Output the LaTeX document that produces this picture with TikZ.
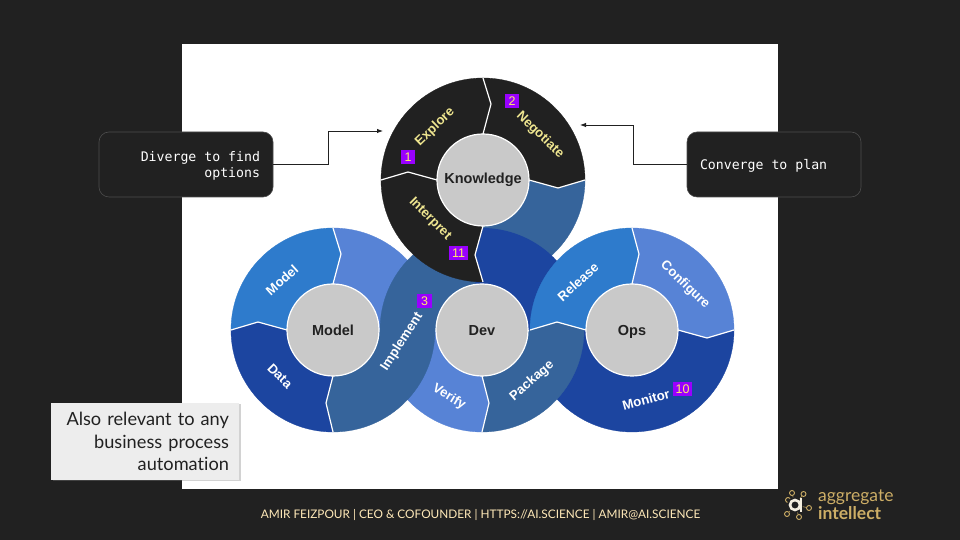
\documentclass[tikz,border=0pt]{standalone}
\usepackage{fontspec}
\setmainfont{Liberation Sans}
\newfontfamily\monofam{DejaVu Sans Mono}
\newfontfamily\latofam[Ligatures=NoCommon]{Lato}
\usetikzlibrary{arrows.meta,shadows}
\definecolor{pagebg}{HTML}{212121}
\definecolor{hubgrey}{HTML}{C9C9C9}
\definecolor{midblue}{HTML}{2E7BCC}
\definecolor{paleblue}{HTML}{5783D6}
\definecolor{deepblue}{HTML}{1C45A0}
\definecolor{slateblue}{HTML}{36649B}
\definecolor{tagpurple}{HTML}{9900FF}
\definecolor{tagyellow}{HTML}{FFEE66}
\definecolor{wordyellow}{HTML}{EFE690}
\definecolor{footcream}{HTML}{FFE9B8}
\definecolor{logogold}{HTML}{CDAE66}
\tikzset{
  hub/.style={circle, draw=white, line width=1.2pt, fill=hubgrey, minimum size=92pt, inner sep=0pt,
    text=pagebg, text height=12pt, text depth=0pt, font=\bfseries\fontsize{14.5}{16}\selectfont},
  seam/.style={draw=white, line width=1.2pt, line join=round},
  word/.style={text=white, inner sep=0pt, font=\bfseries\fontsize{13.2}{15}\selectfont},
  kword/.style={word, text=wordyellow},
  tag/.style={fill=tagpurple, text=tagyellow, minimum height=14.5pt, minimum width=14.5pt, inner sep=0pt,
    font=\fontsize{12.5}{14}\selectfont},
  callout/.style={rounded corners=10pt, draw=white!20!pagebg, fill=pagebg, text=white, line width=.6pt,
    minimum width=174pt, minimum height=65pt, inner xsep=13pt, text width=148pt,
    font=\monofam\fontsize{13.2}{16.5}\selectfont},
  flow/.style={draw=pagebg, line width=.9pt, -{Latex[length=6pt,width=4.5pt]}},
  ring/.style={draw=logogold, line width=.9pt, circle, minimum size=5pt, inner sep=0pt},
}
\newcommand{\monoline}[1]{\raisebox{-5pt}[0pt][0pt]{\spaceskip=.602em\relax #1}}
% one seam: inner point (i), kink (k), outer point (o)
\newcommand{\seamat}[5]{
  \coordinate (#1i) at ([shift={(#3:46)}]#2);
  \coordinate (#1k) at ([shift={(#4,#5)}]#2);
  \coordinate (#1o) at ([shift={(#3:102)}]#2);
}
\newcommand{\petal}[6]{
  \path[fill=#1, draw=#1, line width=.3pt] (#3i) -- (#3k) -- (#3o)
    arc[start angle=#4, end angle=#6, radius=102pt] -- (#5k) -- (#5i) -- cycle;
}
\newcommand{\seamline}[1]{\draw[seam] (#1i) -- (#1k) -- (#1o);}
\begin{document}
\begin{tikzpicture}[x=1pt,y=1pt]
  \fill[pagebg] (0,0) rectangle (960,540);
  \fill[white] (182,51) rectangle (778,496);

  \coordinate (kc) at (483,360);
  \coordinate (mc) at (333,210);
  \coordinate (dc) at (482,210);
  \coordinate (oc) at (632,210);

  \seamat{kt}{kc}{90}{8}{76}
  \seamat{kr}{kc}{0}{75}{-8}
  \seamat{kb}{kc}{-90}{-8}{-75}
  \seamat{kl}{kc}{180}{-75}{8}
  \seamat{mt}{mc}{90}{8}{76}
  \seamat{mr}{mc}{0}{75}{0}
  \seamat{mb}{mc}{-90}{-7}{-73}
  \seamat{ml}{mc}{180}{-75}{8}
  \seamat{dt}{dc}{90}{0}{75}
  \seamat{dr}{dc}{0}{75}{0}
  \seamat{db}{dc}{-90}{7}{-73}
  \seamat{dl}{dc}{180}{-75}{0}
  \seamat{ot}{oc}{90}{7}{76}
  \seamat{or}{oc}{0}{75}{-8}
  \seamat{ol}{oc}{180}{-75}{8}

  \petal{slateblue}{kc}{kr}{0}{kb}{-90}
  \petal{paleblue}{mc}{mt}{90}{mr}{0}
  \petal{midblue}{mc}{ml}{180}{mt}{90}
  \petal{deepblue}{mc}{mb}{-90}{ml}{-180}
  \petal{paleblue}{dc}{db}{-90}{dl}{-180}
  \petal{slateblue}{dc}{dl}{180}{dt}{90}
  \path[fill=deepblue] (dc) -- ([shift={(98:102)}]dc) arc[start angle=98, end angle=0, radius=102pt] -- cycle;
  \petal{deepblue}{oc}{or}{0}{ol}{-180}
  \petal{paleblue}{oc}{ot}{90}{or}{0}
  \path[fill=slateblue, draw=slateblue, line width=.3pt] (olo) -- (olk) -- (dro)
    arc[start angle=0, end angle=-90, radius=102pt] -- (dbk) -- (dbi) -- cycle;
  \petal{midblue}{oc}{ol}{180}{ot}{90}
  \petal{slateblue}{mc}{mr}{0}{mb}{-90}
  \petal{pagebg}{kc}{kl}{180}{kt}{90}
  \petal{pagebg}{kc}{kt}{90}{kr}{0}
  \petal{pagebg}{kc}{kb}{-90}{kl}{-180}

  \seamline{kt}
  \seamline{kr}
  \seamline{kb}
  \seamline{kl}
  \seamline{mt}
  \seamline{mb}
  \seamline{ml}
  \seamline{db}
  \seamline{ot}
  \seamline{or}
  \seamline{ol}

  \node[hub, text height=7pt] (knowledge) at (kc) {Knowledge};
  \node[hub] (model) at (mc) {Model};
  \node[hub] (dev) at (dc) {Dev};
  \node[hub] (ops) at (oc) {Ops};

  \node[kword, rotate=44] (explore) at (435,413) {Explore};
  \node[kword, rotate=-44] (negotiate) at (540,405) {Negotiate};
  \node[kword, rotate=-45] (interpret) at (430,321) {Interpret};
  \node[word, rotate=42] (modelword) at (282,260) {Model};
  \node[word, rotate=-45] (data) at (280,164) {Data};
  \node[word, rotate=57] (implement) at (402,198) {Implement};
  \node[word, rotate=-31] (verify) at (449,143) {Verify};
  \node[word, rotate=41] (package) at (532,159) {Package};
  \node[word, rotate=42] (release) at (578,258) {Release};
  \node[word, rotate=-44] (configure) at (685,255) {Configure};
  \node[word, rotate=15] (monitor) at (646,140) {Monitor};

  \node[tag] (tagone) at (408,383) {1};
  \node[tag] (tagtwo) at (512,439) {2};
  \node[tag, minimum width=19pt] (tageleven) at (458.5,287) {11};
  \node[tag] (tagthree) at (424.5,239) {3};
  \node[tag, minimum width=19pt] (tagten) at (682.5,151) {10};

  \node[callout, align=right] (diverge) at (186,375.5) {\monoline{Diverge to find}\\\monoline{options}};
  \node[callout, align=left] (converge) at (774,375.5) {\monoline{Converge to plan}};
  \coordinate (divergeend) at (383,409);
  \coordinate (convergeend) at (580,415);
  \draw[flow] (diverge.east) -- ++(55,0) |- (divergeend);
  \draw[flow] (converge.west) -- ++(-53,0) |- (convergeend);

  \node[fill=black!7, drop shadow={shadow xshift=1.5pt, shadow yshift=-1.5pt, opacity=.35},
    minimum width=188pt, minimum height=77pt, inner xsep=10pt, text width=168pt, align=right,
    text=pagebg, font=\latofam\fontsize{18.2}{22.5}\selectfont] (note) at (145,98.5)
    {Also relevant to any\\business process\\automation};

  \node[text=footcream, font=\latofam\fontsize{11.8}{14}\selectfont] (footer) at (480.5,25)
    {AMIR FEIZPOUR | CEO \& COFOUNDER | HTTPS://AI.SCIENCE | AMIR@AI.SCIENCE};

  \node[ring] (r1) at (792,47) {};
  \node[ring] (r2) at (803.5,46) {};
  \node[ring] (r3) at (788,40) {};
  \node[ring] (r4) at (809,32) {};
  \node[ring] (r5) at (787,26) {};
  \node[ring] (r6) at (799,23) {};
  \coordinate (logoa) at (795,35);
  \foreach \r in {r1,r2,r3,r4,r5,r6}
    \draw[logogold, line width=.5pt] (logoa) -- (\r);
  \fill[pagebg] (logoa) circle (8pt);
  \draw[white!80!logogold, line width=2.6pt] (logoa) circle (5pt);
  \draw[white!80!logogold, line width=2.6pt] (801,41.5) -- (801,27.5);

  \node[text=logogold, anchor=west, inner sep=0pt, font=\latofam\fontsize{17.5}{18}\selectfont] (logotop) at (818,43) {aggregate};
  \node[text=logogold, anchor=west, inner sep=0pt, font=\latofam\bfseries\fontsize{17.5}{18}\selectfont] (logobottom) at (818,27) {intellect};
\end{tikzpicture}
\end{document}
